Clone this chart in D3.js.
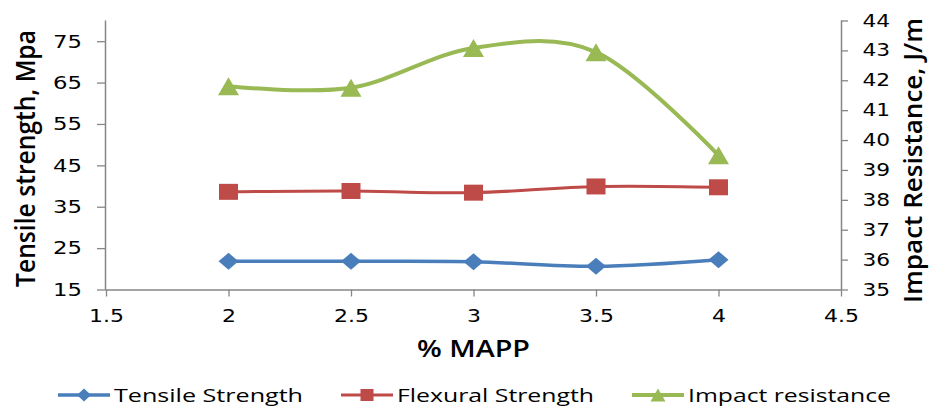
<!DOCTYPE html>
<html><head><meta charset="utf-8">
<script src="https://cdn.jsdelivr.net/npm/d3@7"></script>
<style>
html,body{margin:0;padding:0;background:#fff;}
text{font-family:"Open Sans","Noto Sans",sans-serif;fill:#000;}
</style></head>
<body><svg id="c" width="930" height="409"></svg>
<script>
const xValues = [2, 2.5, 3, 3.5, 4];
const tensile = [21.8, 21.8, 21.7, 20.6, 22.2];
const flexural = [38.6, 38.8, 38.4, 39.9, 39.7];
const impact = [41.8, 41.75, 43.08, 42.94, 39.49];
const xTicks = [1.5, 2, 2.5, 3, 3.5, 4, 4.5];
const leftTicks = [15, 25, 35, 45, 55, 65, 75];
const rightTicks = [35, 36, 37, 38, 39, 40, 41, 42, 43, 44];
const seriesNames = ["Tensile Strength", "Flexural Strength", "Impact resistance"];

const svg = d3.select("#c");
const L = 106, R = 841, T = 20.5, B = 289.5;
const x = d3.scaleLinear().domain([1.5, 4.5]).range([L, R]);
const yL = d3.scaleLinear().domain([15, 80]).range([B, T]);
const yR = d3.scaleLinear().domain([35, 44]).range([B, T]);
const axisColor = "#868686";
const sx = 1.25; // horizontal stretch of glyphs in the reference

// axes
const gx = svg.append("g").attr("transform", `translate(0,${B})`)
  .call(d3.axisBottom(x).tickValues(xTicks).tickSize(7).tickPadding(13.5).tickFormat(d => String(d)));
const gl = svg.append("g").attr("transform", `translate(${L},0)`)
  .call(d3.axisLeft(yL).tickValues(leftTicks).tickSize(9).tickPadding(15).tickFormat(d => String(d)));
const gr = svg.append("g").attr("transform", `translate(${R},0)`)
  .call(d3.axisRight(yR).tickValues(rightTicks).tickSize(7).tickPadding(14).tickFormat(d => String(d)));
[gx, gl, gr].forEach(g => {
  g.select(".domain").attr("stroke", axisColor).attr("stroke-width", 1.5);
  g.selectAll(".tick line").attr("stroke", axisColor).attr("stroke-width", 1.3);
  g.selectAll("text").attr("fill", "#000").style("font-family", '"DejaVu Sans",sans-serif');
});
gx.select(".domain").attr("d", `M${L},0.5H${R}`);
gl.select(".domain").attr("d", `M-0.5,${T}V${B}`);
gr.select(".domain").attr("d", `M0.5,${T}V${B}`);
gx.selectAll("text").style("font-size", "17.6px").attr("transform", `scale(${sx},1)`);
gl.selectAll("text").style("font-size", "18.2px").attr("x", -24 / sx).attr("transform", `scale(${sx},1)`);
gr.selectAll("text").style("font-size", "17.4px").attr("x", 21.5 / sx).attr("transform", `scale(${sx},1)`);

// axis titles
svg.append("text").attr("x", (L + R) / 2).attr("y", 357).attr("text-anchor", "middle")
  .style("font-size", "23.8px").style("font-weight", "600")
  .attr("textLength", 113).attr("lengthAdjust", "spacingAndGlyphs").text("% MAPP");
svg.append("text").attr("transform", `translate(35,158.5) rotate(-90) scale(1,1.2)`).attr("text-anchor", "middle")
  .style("font-size", "23px").style("font-weight", "600")
  .attr("textLength", 257).attr("lengthAdjust", "spacingAndGlyphs").text("Tensile strength, Mpa");
svg.append("text").attr("transform", `translate(921.5,160.5) rotate(-90) scale(1,1.2)`).attr("text-anchor", "middle")
  .style("font-size", "21.5px").style("font-weight", "600")
  .attr("textLength", 285).attr("lengthAdjust", "spacingAndGlyphs").text("Impact Resistance, J/m");

// markers
function diamond(w, h) { return `M0,${-h}L${w},0L0,${h}L${-w},0Z`; }
function square(w, h) { return `M${-w},${-h}H${w}V${h}H${-w}Z`; }
function triangle(w, h) { return `M0,${-h}L${w},${h}L${-w},${h}Z`; }

const series = [
  {name: seriesNames[0], vals: tensile, y: yL, color: "#4A7EBB", width: 3.5, marker: diamond(10, 8.5), lm: diamond(7, 6.5)},
  {name: seriesNames[1], vals: flexural, y: yL, color: "#BE4B48", width: 3, marker: square(9.5, 8), lm: square(6.5, 6)},
  {name: seriesNames[2], vals: impact, y: yR, color: "#98B954", width: 4, marker: triangle(10.5, 9), lm: triangle(7.5, 6.5)}
];

series.forEach(s => {
  const line = d3.line().x((d, i) => x(xValues[i])).y(d => s.y(d)).curve(d3.curveCardinal.tension(0));
  svg.append("path").datum(s.vals).attr("d", line).attr("fill", "none")
    .attr("stroke", s.color).attr("stroke-width", s.width).attr("stroke-linejoin", "round");
  svg.selectAll(null).data(s.vals).enter().append("path")
    .attr("d", s.marker).attr("fill", s.color)
    .attr("transform", (d, i) => `translate(${x(xValues[i])},${s.y(d)})`);
});

// legend
const legX = [58, 341, 632];
const legTextW = [189, 197, 203];
const legY = 395;
series.forEach((s, i) => {
  const g = svg.append("g").attr("transform", `translate(${legX[i]},${legY})`);
  g.append("line").attr("x1", 0).attr("x2", 52).attr("y1", 0).attr("y2", 0)
    .attr("stroke", s.color).attr("stroke-width", s.width);
  g.append("path").attr("d", s.lm).attr("fill", s.color).attr("transform", "translate(26,0)");
  g.append("text").attr("x", 56).attr("y", 7).style("font-size", "19px")
    .attr("textLength", legTextW[i]).attr("lengthAdjust", "spacingAndGlyphs").text(s.name);
});
</script></body></html>
